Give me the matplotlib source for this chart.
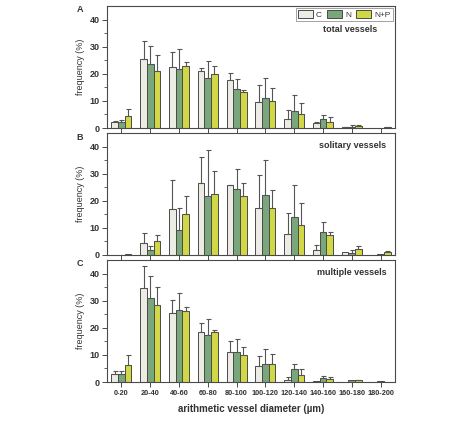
import matplotlib
matplotlib.use("Agg")
import matplotlib.pyplot as plt
import numpy as np

plt.rcParams['font.family'] = ['Liberation Sans', 'DejaVu Sans']

categories = ["0-20", "20-40", "40-60", "60-80", "80-100", "100-120",
              "120-140", "140-160", "160-180", "180-200"]
groups = ["C", "N", "N+P"]

# Panel A: total vessels
total_C = [2.1, 25.3, 22.6, 21.0, 17.7, 9.6, 3.2, 1.7, 0.2, 0.0]
total_C_sd = [0.6, 6.9, 5.3, 1.0, 2.5, 6.3, 3.3, 0.4, 0.1, 0.0]
total_N = [2.2, 23.5, 21.7, 18.3, 14.3, 11.0, 6.2, 3.5, 0.4, 0.1]
total_N_sd = [0.9, 6.7, 7.4, 6.3, 3.8, 7.6, 5.8, 1.4, 0.7, 0.0]
total_NP = [4.3, 21.2, 22.8, 20.0, 13.1, 9.9, 5.3, 2.2, 0.9, 0.3]
total_NP_sd = [2.6, 5.8, 1.6, 2.8, 1.1, 4.7, 4.1, 1.8, 0.2, 0.2]

# Panel B: solitary vessels
sol_C = [0.0, 4.3, 17.0, 26.6, 25.7, 17.3, 7.7, 1.7, 1.2, 0.0]
sol_C_sd = [0.0, 3.8, 10.7, 9.4, 0.2, 12.1, 7.8, 2.0, 0.0, 0.0]
sol_N = [0.1, 1.8, 9.3, 21.6, 24.2, 22.3, 14.0, 8.5, 0.9, 0.2]
sol_N_sd = [0.0, 1.5, 8.0, 17.3, 7.4, 12.6, 12.0, 3.7, 0.9, 0.0]
sol_NP = [0.2, 5.0, 15.0, 22.5, 21.8, 17.3, 11.1, 7.4, 2.2, 1.1]
sol_NP_sd = [0.0, 2.5, 6.6, 8.3, 4.6, 6.7, 8.1, 1.0, 1.2, 0.5]

# Panel C: multiple vessels
mul_C = [3.1, 34.8, 25.4, 18.5, 11.2, 5.9, 0.9, 0.2, 0.0, 0.0]
mul_C_sd = [1.0, 7.9, 4.8, 3.2, 3.9, 3.7, 1.1, 0.0, 0.0, 0.0]
mul_N = [3.1, 31.1, 26.4, 17.5, 10.9, 6.7, 4.7, 1.4, 0.6, 0.2]
mul_N_sd = [1.0, 7.9, 6.4, 5.8, 4.8, 5.5, 2.1, 0.8, 0.0, 0.0]
mul_NP = [6.3, 28.4, 26.3, 18.6, 10.1, 6.5, 2.6, 1.0, 0.6, 0.1]
mul_NP_sd = [3.6, 6.5, 1.5, 0.4, 2.9, 3.7, 2.2, 0.9, 0.1, 0.0]

panels = [
    ("A", "total vessels", [(total_C, total_C_sd), (total_N, total_N_sd), (total_NP, total_NP_sd)]),
    ("B", "solitary vessels", [(sol_C, sol_C_sd), (sol_N, sol_N_sd), (sol_NP, sol_NP_sd)]),
    ("C", "multiple vessels", [(mul_C, mul_C_sd), (mul_N, mul_N_sd), (mul_NP, mul_NP_sd)]),
]

colors = ["#ececE4", "#7aa67c", "#d2d745"]
edge = "#4a4a4a"
txt = "#333333"

W, H = 474, 423
fig = plt.figure(figsize=(W / 100, H / 100), dpi=100)

tops_px = [6, 133, 260]
ax_h = 122
left_px, right_px = 107, 395

x = np.arange(len(categories))
bw = 0.23
offsets = [-bw, 0, bw]

for i, (letter, title, series) in enumerate(panels):
    top = tops_px[i]
    ax = fig.add_axes([left_px / W, 1 - (top + ax_h) / H, (right_px - left_px) / W, ax_h / H])
    for j, (vals, sd) in enumerate(series):
        vals = np.array(vals)
        sd = np.array(sd)
        ax.bar(x + offsets[j], vals, width=bw, color=colors[j], edgecolor=edge,
               linewidth=0.7, label=groups[j], zorder=2)
        m = sd > 0
        ax.errorbar((x + offsets[j])[m], vals[m], yerr=[np.zeros(m.sum()), sd[m]],
                    fmt='none', ecolor="#555555", elinewidth=0.8, capsize=1.8,
                    capthick=0.8, zorder=3)
    ax.set_xlim(-0.5, 9.5)
    ax.set_ylim(0, 45)
    ax.set_yticks([0, 10, 20, 30, 40])
    ax.set_yticks(np.arange(5, 45, 10), minor=True)
    ax.set_xticks(x)
    ax.tick_params(axis='both', which='major', direction='out', length=3.5, width=0.7,
                   colors=edge, labelsize=6.5, labelcolor=txt, pad=2)
    ax.tick_params(axis='y', which='minor', direction='out', length=2, width=0.6, colors=edge)
    for s in ax.spines.values():
        s.set_linewidth(0.8)
        s.set_color(edge)
    for lab in ax.get_yticklabels():
        lab.set_fontweight('bold')
    if i == 2:
        ax.set_xticklabels(categories, fontsize=5.3, fontweight='bold', color=txt)
        ax.set_xlabel("arithmetic vessel diameter (µm)", fontsize=7, fontweight='bold',
                      color=txt, labelpad=5)
    else:
        ax.set_xticklabels([])
    ax.set_ylabel("frequency (%)", fontsize=6.5, color=txt, labelpad=3)
    fig.text(80 / W, 1 - (top + 4) / H, letter, fontsize=6.5, fontweight='bold',
             color=txt, ha='center', va='center')
    if i == 0:
        leg = ax.legend(loc='upper right', ncol=3, fontsize=6, frameon=True,
                        fancybox=False, edgecolor="#777777", handlelength=1.8,
                        handleheight=1.0, columnspacing=0.6, handletextpad=0.4,
                        borderpad=0.25, borderaxespad=0.25, labelcolor=txt)
        leg.get_frame().set_linewidth(0.6)
        ax.text(0.94, 0.81, title, transform=ax.transAxes, fontsize=6.5,
                fontweight='bold', color=txt, ha='right', va='center')
    else:
        ax.text(0.97, 0.9, title, transform=ax.transAxes, fontsize=6.5,
                fontweight='bold', color=txt, ha='right', va='center')

fig.savefig("out.png", dpi=100)
